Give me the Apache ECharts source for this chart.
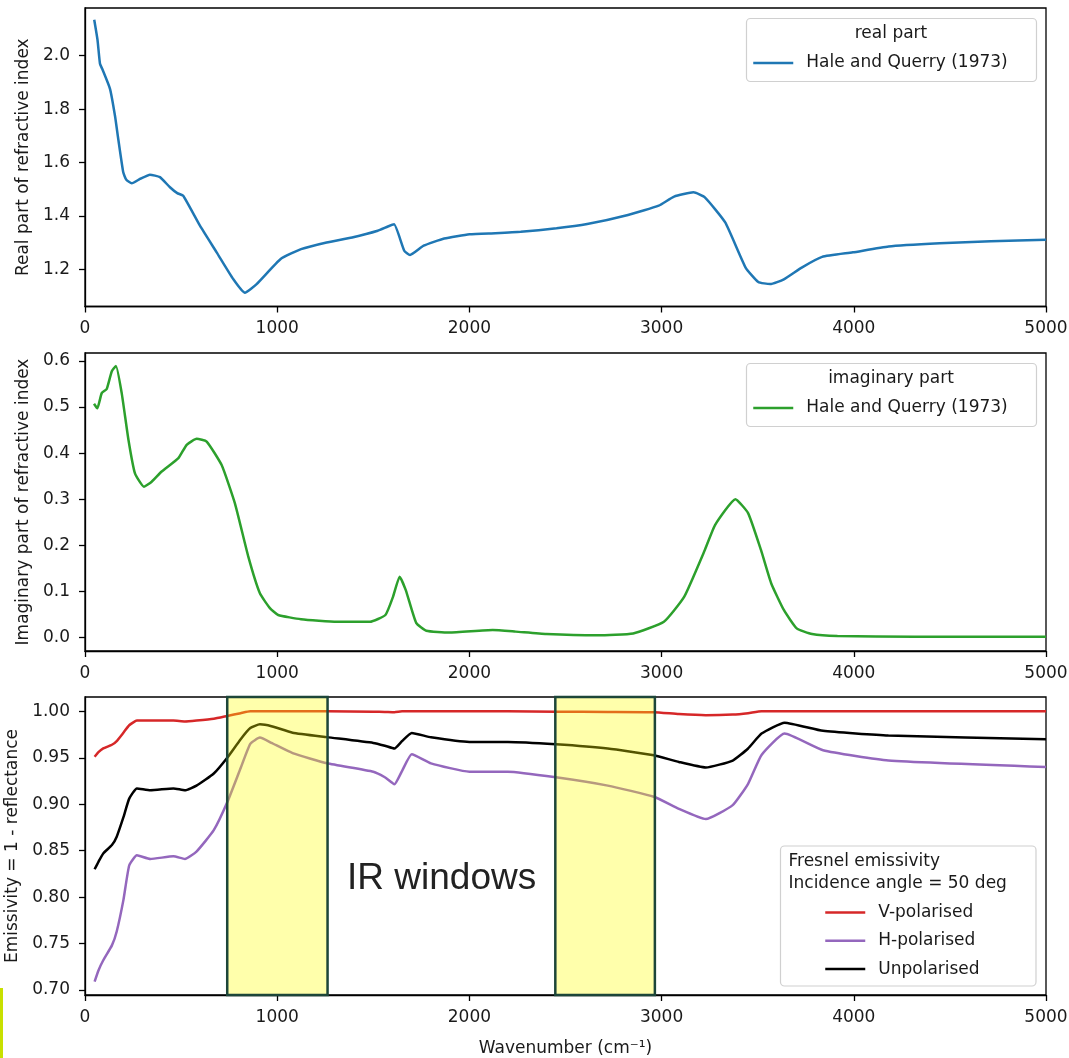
<!DOCTYPE html>
<html><head><meta charset="utf-8">
<script src="https://cdn.jsdelivr.net/npm/echarts@6/dist/echarts.min.js"></script>
<style>html,body{margin:0;padding:0;background:#fff}#c{width:1069px;height:1058px}</style>
</head><body><div id="c"></div>
<script>
// ---- data ----
const realX = [48, 65, 78, 90, 130, 156, 173, 199, 215, 243, 286, 338, 390, 442, 480, 511, 598, 685, 772, 832, 893, 1018, 1124, 1257, 1390, 1523, 1576, 1608, 1661, 1691, 1762, 1869, 2001, 2135, 2267, 2453, 2613, 2825, 2985, 3065, 3166, 3225, 3331, 3437, 3503, 3565, 3636, 3729, 3835, 3995, 4181, 4447, 4713, 5000];
const realN = [2.135, 2.06, 1.97, 1.95, 1.876, 1.775, 1.688, 1.563, 1.535, 1.522, 1.538, 1.554, 1.545, 1.507, 1.485, 1.475, 1.363, 1.263, 1.162, 1.112, 1.144, 1.238, 1.275, 1.300, 1.319, 1.344, 1.360, 1.368, 1.269, 1.253, 1.288, 1.315, 1.331, 1.335, 1.340, 1.353, 1.369, 1.403, 1.438, 1.472, 1.488, 1.469, 1.375, 1.206, 1.152, 1.144, 1.162, 1.206, 1.246, 1.263, 1.285, 1.297, 1.305, 1.310];

const imagX = [47, 64, 87, 113, 139, 161, 191, 226, 260, 307, 347, 399, 486, 529, 581, 633, 711, 780, 850, 910, 962, 1005, 1124, 1310, 1483, 1563, 1603, 1637, 1669, 1723, 1776, 1895, 2121, 2241, 2400, 2666, 2852, 3012, 3118, 3225, 3278, 3384, 3450, 3517, 3570, 3636, 3703, 3783, 3915, 4314, 5000];
const imagK = [0.507, 0.497, 0.530, 0.539, 0.577, 0.589, 0.530, 0.429, 0.356, 0.327, 0.338, 0.360, 0.389, 0.418, 0.431, 0.425, 0.374, 0.291, 0.175, 0.096, 0.064, 0.049, 0.040, 0.0345, 0.0345, 0.049, 0.089, 0.132, 0.103, 0.032, 0.015, 0.011, 0.0165, 0.013, 0.0078, 0.005, 0.009, 0.0345, 0.089, 0.190, 0.244, 0.300, 0.270, 0.190, 0.118, 0.060, 0.020, 0.0078, 0.0035, 0.002, 0.002];

const emisX = [50, 70, 95, 140, 165, 200, 230, 270, 340, 460, 520, 580, 670, 740, 810, 860, 910, 970, 1080, 1260, 1500, 1560, 1610, 1650, 1700, 1800, 2000, 2200, 2450, 2720, 2960, 3090, 3230, 3370, 3450, 3520, 3640, 3840, 4180, 5000];
const vPol = [0.951, 0.956, 0.960, 0.964, 0.968, 0.977, 0.985, 0.990, 0.990, 0.990, 0.989, 0.990, 0.992, 0.995, 0.998, 1.000, 1.000, 1.000, 1.000, 1.000, 0.9995, 0.9993, 0.999, 1.000, 1.000, 1.000, 1.000, 1.000, 0.9995, 0.9993, 0.999, 0.997, 0.9958, 0.9965, 0.998, 1.000, 1.000, 1.000, 1.000, 1.000];
const hPol = [0.709, 0.721, 0.732, 0.748, 0.763, 0.797, 0.834, 0.845, 0.841, 0.844, 0.841, 0.849, 0.872, 0.902, 0.939, 0.965, 0.9717, 0.966, 0.955, 0.944, 0.935, 0.929, 0.9215, 0.936, 0.9538, 0.944, 0.935, 0.935, 0.929, 0.920, 0.908, 0.895, 0.884, 0.899, 0.922, 0.953, 0.976, 0.958, 0.947, 0.940];
const unPol = [0.830, 0.838, 0.847, 0.856, 0.865, 0.886, 0.906, 0.917, 0.915, 0.917, 0.915, 0.920, 0.933, 0.950, 0.970, 0.982, 0.986, 0.984, 0.977, 0.9722, 0.966, 0.963, 0.960, 0.968, 0.9767, 0.972, 0.967, 0.967, 0.9645, 0.960, 0.9527, 0.9455, 0.9395, 0.947, 0.960, 0.976, 0.9878, 0.979, 0.974, 0.970];

const irWindows = [[740, 1262], [2447, 2965]];

const xTickRange = [0, 5000, 1000];
const realTicks = [1.2, 1.4, 1.6, 1.8, 2.0];
const imagTicks = [0.0, 0.1, 0.2, 0.3, 0.4, 0.5, 0.6];
const emisTicks = [0.70, 0.75, 0.80, 0.85, 0.90, 0.95, 1.00];

// ---- chart ----
const FONT = 'DejaVu Sans';
const TXT = '#1a1a1a';
const pairs = (xs, ys) => xs.map((x, i) => [x, ys[i]]);

const grids = [
  {left: 85, top: 8, width: 961, height: 298.5},
  {left: 85, top: 353, width: 961, height: 298},
  {left: 85, top: 697, width: 961, height: 298}
].map(g => Object.assign(g, {show: true, borderColor: '#000', borderWidth: 1.3, backgroundColor: 'transparent',
  containLabel: false, outerBoundsMode: 'none'}));

function xAxis(i, withName) {
  const a = {
    type: 'value', gridIndex: i, min: xTickRange[0], max: xTickRange[1], interval: xTickRange[2],
    axisLine: {show: true, onZero: false, lineStyle: {color: '#000', width: 1.3}},
    axisTick: {show: true, length: 6, lineStyle: {color: '#000', width: 1.3}},
    axisLabel: {color: TXT, fontSize: 17, fontFamily: FONT, margin: 14, formatter: v => String(v)},
    splitLine: {show: false}
  };
  if (withName) {
    a.name = 'Wavenumber (cm\u207B\u00B9)';
    a.nameLocation = 'middle';
    a.nameGap = 45;
    a.nameTextStyle = {color: TXT, fontSize: 17, fontFamily: FONT};
  }
  return a;
}
function yAxis(i, min, max, ticks, dec, name, gap) {
  return {
    type: 'value', gridIndex: i, min: min, max: max,
    axisLine: {show: true, onZero: false, lineStyle: {color: '#000', width: 1.3}},
    axisTick: {show: true, length: 6, customValues: ticks, lineStyle: {color: '#000', width: 1.3}},
    axisLabel: {color: TXT, fontSize: 17, fontFamily: FONT, margin: 15, customValues: ticks,
      formatter: v => Number(v).toFixed(dec)},
    splitLine: {show: false},
    name: name, nameLocation: 'middle', nameRotate: 90, nameGap: gap,
    nameTextStyle: {color: TXT, fontSize: 17, fontFamily: FONT}
  };
}

const lineSeries = (name, xi, data, color) => ({
  name: name, type: 'line', xAxisIndex: xi, yAxisIndex: xi, data: data,
  symbol: 'none', showSymbol: false, smooth: 0.15, silent: true,
  lineStyle: {color: color, width: 2.5}, itemStyle: {color: color},
  emphasis: {disabled: true}, z: 2
});

const unSeries = lineSeries('Unpolarised', 2, pairs(emisX, unPol), '#000000');
unSeries.markArea = {
  silent: true, z: 10,
  itemStyle: {color: 'rgba(255,255,0,0.33)', borderColor: '#1d4639', borderWidth: 2.5},
  data: irWindows.map(w => [{xAxis: w[0]}, {xAxis: w[1]}])
};

const legendBase = (top, left, names, fmt) => ({
  orient: 'vertical', left: left, top: top, data: names, selectedMode: false, padding: 0,
  itemWidth: 40, itemHeight: 17, itemGap: 11.3,
  itemStyle: {opacity: 0},
  lineStyle: {width: 2.5},
  formatter: fmt || (n => n),
  textStyle: {color: TXT, fontSize: 17, fontFamily: FONT, padding: [0, 0, 0, 8]}
});

const option = {
  animation: false,
  backgroundColor: '#ffffff',
  grid: grids,
  xAxis: [xAxis(0, false), xAxis(1, false), xAxis(2, true)],
  yAxis: [
    yAxis(0, 1.060, 2.179, realTicks, 1, 'Real part of refractive index', 52),
    yAxis(1, -0.029, 0.617, imagTicks, 1, 'Imaginary part of refractive index', 52),
    yAxis(2, 0.6946, 1.0154, emisTicks, 2, 'Emissivity = 1 - reflectance', 64)
  ],
  legend: [
    legendBase(54.5, 752, ['real'], () => 'Hale and Querry (1973)'),
    legendBase(399.5, 752, ['imag'], () => 'Hale and Querry (1973)'),
    legendBase(904, 824, ['V-polarised', 'H-polarised', 'Unpolarised'])
  ],
  series: [
    lineSeries('real', 0, pairs(realX, realN), '#1f77b4'),
    lineSeries('imag', 1, pairs(imagX, imagK), '#2ca02c'),
    lineSeries('V-polarised', 2, pairs(emisX, vPol), '#d62728'),
    lineSeries('H-polarised', 2, pairs(emisX, hPol), '#9467bd'),
    unSeries
  ],
  graphic: [
    {type: 'rect', z: 3, shape: {x: 746.5, y: 18.5, width: 290, height: 63, r: 4},
      style: {fill: 'rgba(255,255,255,0.8)', stroke: '#d0d0d0', lineWidth: 1.2}},
    {type: 'text', z: 3, x: 891, y: 33.5,
      style: {text: 'real part', fill: TXT, fontSize: 17, fontFamily: FONT, align: 'center', verticalAlign: 'middle'}},
    {type: 'rect', z: 3, shape: {x: 746.5, y: 363.5, width: 290, height: 63, r: 4},
      style: {fill: 'rgba(255,255,255,0.8)', stroke: '#d0d0d0', lineWidth: 1.2}},
    {type: 'text', z: 3, x: 891, y: 378.5,
      style: {text: 'imaginary part', fill: TXT, fontSize: 17, fontFamily: FONT, align: 'center', verticalAlign: 'middle'}},
    {type: 'rect', z: 3, shape: {x: 780.5, y: 846, width: 255.5, height: 140, r: 4},
      style: {fill: 'rgba(255,255,255,0.8)', stroke: '#d0d0d0', lineWidth: 1.2}},
    {type: 'text', z: 3, x: 788.5, y: 862,
      style: {text: 'Fresnel emissivity', fill: TXT, fontSize: 17, fontFamily: FONT, align: 'left', verticalAlign: 'middle'}},
    {type: 'text', z: 3, x: 788.5, y: 883.5,
      style: {text: 'Incidence angle = 50 deg', fill: TXT, fontSize: 17, fontFamily: FONT, align: 'left', verticalAlign: 'middle'}},
    {type: 'text', z: 12, x: 347, y: 879,
      style: {text: 'IR windows', fill: '#222', fontSize: 37, fontFamily: 'Liberation Sans', align: 'left', verticalAlign: 'middle'}},
    {type: 'rect', z: 12, shape: {x: 0, y: 988, width: 3, height: 70},
      style: {fill: '#c8e000'}}
  ]
};

const chart = echarts.init(document.getElementById('c'), null, {renderer: 'canvas'});
chart.setOption(option);
</script>
</body></html>
